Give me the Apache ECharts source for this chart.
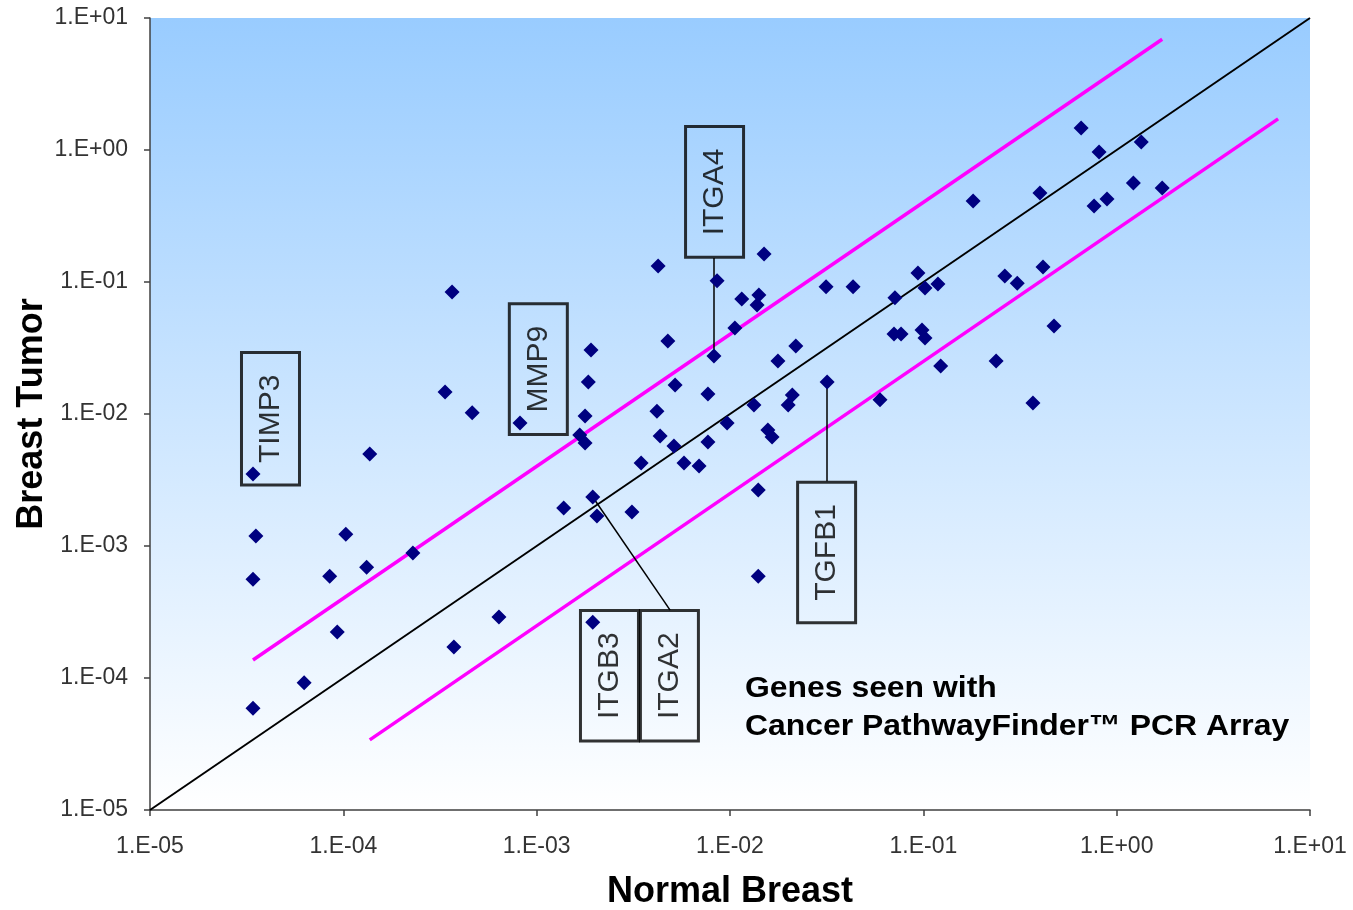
<!DOCTYPE html>
<html>
<head>
<meta charset="utf-8">
<script src="https://cdn.jsdelivr.net/npm/echarts@6/dist/echarts.min.js"></script>
<style>
  html, body { margin: 0; padding: 0; background: #fff; }
  #chart { width: 1353px; height: 910px; }
</style>
</head>
<body>
<div id="chart"></div>
<script>
// gene expression values (normal vs tumor)
const normalBreast = [
  3.41e-5, 3.53e-5, 3.41e-5, 3.41e-5, 6.27e-5, 8.5e-5, 9.3e-5, 1.03e-4, 1.32e-4, 1.37e-4,
  2.29e-4, 3.65e-4, 3.36e-4, 4.64e-4, 3.73e-4, 6.38e-4, 8.2e-4, 4.25e-3, 1.5e-2, 8.57e-3,
  1.15e-2, 1.41e-2, 1.38e-2, 3.14e-2, 4.33e-2, 7.13e-2, 1.06e-2, 4.77e-3, 1.91e-3, 8.26e-3,
  2.19e-2, 1.77e-2, 1.85e-3, 5.2e-3, 7.69e-3, 3.18e-2, 1.78e-3, 4.19e-3, 1.33e-2, 2.1e-2,
  2.0e-2, 1.67e-3, 1.78e-3, 4.35e-3, 5.13e-3, 7.69e-3, 9.66e-3, 1.57e-2, 1.65e-2, 3.47e-3,
  5.78e-3, 6.92e-3, 5.97e-2, 1.38e-3, 1.95e-3, 2.05e-3, 3.11e-3, 1.4e-2, 1.4e-2, 1.95e-3,
  0.655, 0.811, 1.34, 1.22, 1.72, 0.401, 0.181, 0.764, 0.891, 9.38e-2,
  0.102, 0.119, 0.264, 0.306, 0.416, 7.05e-2, 7.67e-2, 9.84e-2, 0.102, 0.474,
  0.123, 0.238, 0.369
];
const breastTumor = [
  3.51e-3, 1.19e-3, 5.6e-4, 5.9e-5, 9.2e-5, 5.9e-4, 2.23e-4, 1.23e-3, 6.9e-4, 4.98e-3,
  8.85e-4, 8.4e-2, 1.47e-2, 1.02e-2, 1.72e-4, 2.9e-4, 8.55e-3, 0.132, 0.163, 0.102,
  7.43e-2, 7.98e-2, 6.7e-2, 9.2e-2, 9.2e-2, 7.6e-2, 4.48e-2, 3.57e-2, 3.05e-2, 2.75e-2,
  3.27e-2, 2.52e-2, 1.75e-2, 1.66e-2, 1.42e-2, 1.75e-2, 9.66e-3, 1.05e-2, 1.17e-2, 1.39e-2,
  1.17e-2, 6.93e-3, 6.03e-3, 6.81e-3, 5.73e-3, 6.14e-3, 8.55e-3, 7.57e-3, 6.7e-3, 4.25e-3,
  4.25e-3, 4.04e-3, 1.28e-2, 1.94e-3, 2.35e-3, 1.69e-3, 1.81e-3, 2.66e-3, 5.9e-4, 2.65e-4,
  1.47, 0.966, 1.15, 0.562, 0.515, 0.472, 0.411, 0.377, 0.426, 0.117,
  9.0e-2, 9.66e-2, 0.111, 9.8e-2, 0.13, 4.04e-2, 4.04e-2, 4.33e-2, 3.77e-2, 4.64e-2,
  2.31e-2, 2.52e-2, 1.21e-2
];

// reference lines: equality and 4-fold boundaries
const equalityLine = [[1e-5, 1e-5], [10, 10]];
const upperFold = [[3.41e-5, 1.37e-4], [1.72, 6.9]];
const lowerFold = [[1.37e-4, 3.4e-5], [6.84, 1.72]];

// gene callouts: box centre in data units, and leader lines
const geneNames = ['TIMP3', 'MMP9', 'ITGA4', 'TGFB1', 'ITGB3', 'ITGA2'];
const geneBoxNormal = [4.2e-5, 1.02e-3, 8.32e-3, 3.16e-2, 2.38e-3, 4.86e-3];
const geneBoxTumor = [9.2e-3, 2.19e-2, 0.481, 8.93e-4, 1.04e-4, 1.04e-4];
const leaderLines = [
  [[8.26e-3, 2.75e-2], [8.26e-3, 0.152]],
  [[3.18e-2, 1.75e-2], [3.18e-2, 3.1e-3]],
  [[1.95e-3, 2.35e-3], [4.9e-3, 3.27e-4]]
];

const axisTicks = [1e-5, 1e-4, 1e-3, 1e-2, 1e-1, 1, 10];

function sci(v) {
  const e = Math.round(Math.log10(v));
  return '1.E' + (e < 0 ? '-' : '+') + String(Math.abs(e)).padStart(2, '0');
}

const chart = echarts.init(document.getElementById('chart'));
const font = 'Liberation Sans, Arial, sans-serif';

const axisCommon = {
  type: 'log',
  logBase: 10,
  min: axisTicks[0],
  max: axisTicks[axisTicks.length - 1],
  splitNumber: 6,
  axisLine: { show: true, lineStyle: { color: '#404040', width: 1.5 } },
  axisTick: { show: true, length: 6, lineStyle: { color: '#404040', width: 1.5 } },
  splitLine: { show: false },
  minorTick: { show: false },
  axisLabel: { formatter: sci, color: '#333', fontFamily: font, fontSize: 23 },
  nameLocation: 'middle',
  nameMoveOverlap: false,
  nameTextStyle: { fontFamily: font, fontWeight: 'bold', fontSize: 36, color: '#000' }
};

const lineStyleSeries = (data, color, width) => ({
  type: 'line',
  data,
  symbol: 'none',
  silent: true,
  lineStyle: { color, width },
  z: 3
});

chart.setOption({
  animation: false,
  backgroundColor: '#fff',
  grid: {
    left: 150, right: 43, top: 18, bottom: 100,
    outerBoundsMode: 'none',
    containLabel: false,
    show: true,
    borderWidth: 0,
    backgroundColor: new echarts.graphic.LinearGradient(0, 0, 0, 1, [
      { offset: 0, color: '#99CCFF' },
      { offset: 1, color: '#FFFFFF' }
    ])
  },
  xAxis: Object.assign({}, axisCommon, {
    name: 'Normal Breast',
    nameGap: 64,
    axisLabel: Object.assign({}, axisCommon.axisLabel, { margin: 25 })
  }),
  yAxis: Object.assign({}, axisCommon, {
    name: 'Breast Tumor',
    nameGap: 100,
    axisLabel: Object.assign({}, axisCommon.axisLabel, { margin: 22 })
  }),
  series: [
    lineStyleSeries(equalityLine, '#000', 2),
    lineStyleSeries(upperFold, '#FF00FF', 3.5),
    lineStyleSeries(lowerFold, '#FF00FF', 3.5),
    {
      type: 'lines',
      coordinateSystem: 'cartesian2d',
      silent: true,
      data: leaderLines.map(c => ({ coords: c })),
      lineStyle: { color: '#000', width: 1.5, opacity: 1 },
      z: 4
    },
    {
      type: 'scatter',
      data: normalBreast.map((x, i) => [x, breastTumor[i]]),
      symbol: 'diamond',
      symbolSize: 15,
      itemStyle: { color: '#000080', opacity: 1 },
      z: 5
    },
    {
      type: 'scatter',
      data: geneNames.map((n, i) => ({ value: [geneBoxNormal[i], geneBoxTumor[i]], name: n })),
      symbolSize: 1,
      itemStyle: { color: 'rgba(0,0,0,0)' },
      silent: true,
      z: 6,
      label: {
        show: true,
        position: 'inside',
        rotate: 90,
        formatter: '{b}',
        fontFamily: font,
        fontSize: 30,
        lineHeight: 34,
        color: '#000',
        padding: [12, 22, 12, 22],
        borderColor: '#000',
        borderWidth: 1.5,
        backgroundColor: 'rgba(0,0,0,0)'
      }
    }
  ],
  graphic: [
    {
      type: 'text',
      x: 745,
      y: 670,
      scaleX: 1.1,
      style: {
        text: 'Genes seen with\nCancer PathwayFinder\u2122 PCR Array',
        font: 'bold 29px Liberation Sans, Arial, sans-serif',
        lineHeight: 38,
        fill: '#000'
      },
      z: 10
    }
  ]
});
</script>
</body>
</html>
